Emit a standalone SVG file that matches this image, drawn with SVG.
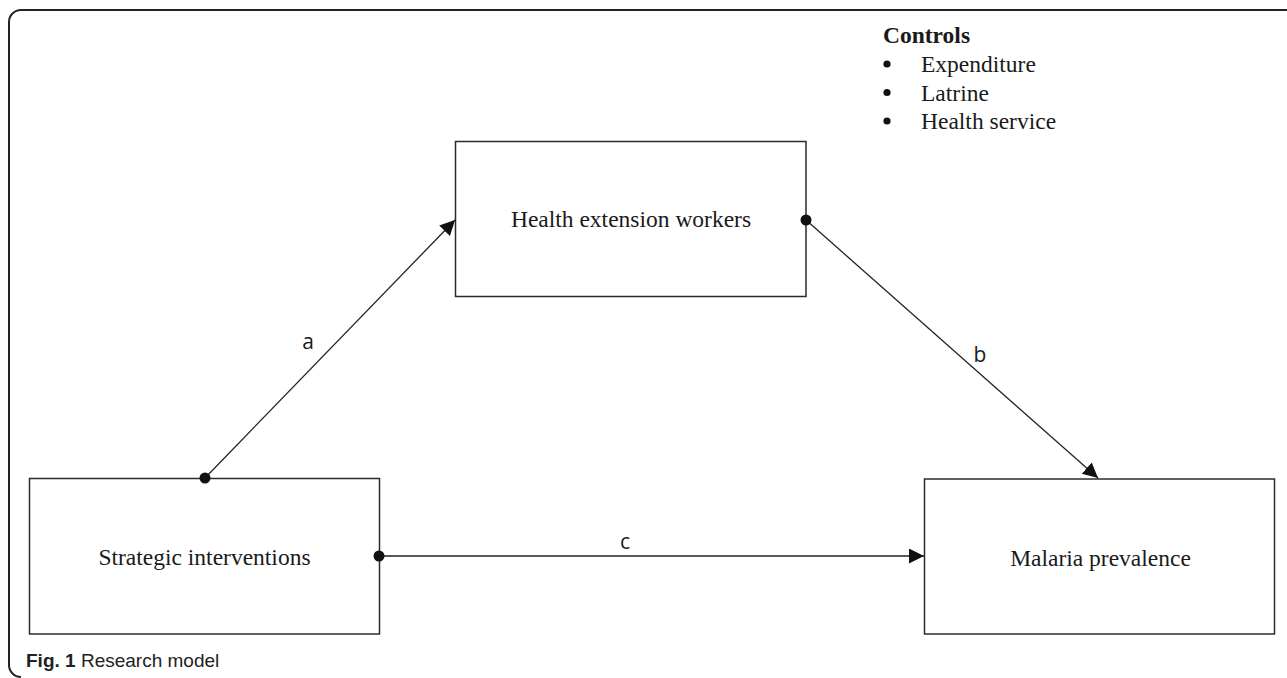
<svg xmlns="http://www.w3.org/2000/svg" width="1287" height="678" viewBox="0 0 1287 678">
<style>
.box{fill:#fff;stroke:#2b2b2b;stroke-width:1.5}
.nt{font-family:"Liberation Serif","Times New Roman",serif;font-size:23.5px;fill:#1a1a1a;text-anchor:middle}
.ct{font-family:"Liberation Serif","Times New Roman",serif;font-size:23.5px;fill:#1a1a1a}
.lbl{font-family:"Open Sans","Liberation Sans",sans-serif;font-size:21px;fill:#1a1a1a;text-anchor:middle}
.con{stroke:#222;stroke-width:1.3;fill:none}
.dot{fill:#111}
.cap{font-family:"Liberation Sans",Arial,sans-serif;font-size:19px;fill:#222}
</style>
<defs>
<marker id="arr" markerUnits="userSpaceOnUse" markerWidth="16" markerHeight="16" viewBox="0 0 16 16" refX="15" refY="7.5" orient="auto">
<path d="M0,0 L15,7.5 L0,15 Z" fill="#111"/>
</marker>
</defs>
<path d="M1287,10 H21 A12,12 0 0 0 9,22 V665 A12,12 0 0 0 21,677" fill="none" stroke="#222" stroke-width="2"/>
<g id="controls">
<text class="ct" x="883" y="43" font-weight="bold">Controls</text>
<circle cx="887" cy="64" r="3.6" fill="#111"/>
<text class="ct" x="921" y="72">Expenditure</text>
<circle cx="887" cy="92.5" r="3.6" fill="#111"/>
<text class="ct" x="921" y="100.5">Latrine</text>
<circle cx="887" cy="121" r="3.6" fill="#111"/>
<text class="ct" x="921" y="129">Health service</text>
</g>
<g id="node-hew">
<rect class="box" x="455.5" y="141.5" width="350.5" height="155"/>
<text class="nt" x="631" y="227">Health extension workers</text>
</g>
<g id="node-si">
<rect class="box" x="29.5" y="478.5" width="350" height="155.5"/>
<text class="nt" x="204.5" y="565">Strategic interventions</text>
</g>
<g id="node-mp">
<rect class="box" x="924.5" y="479" width="350" height="155"/>
<text class="nt" x="1100.5" y="566">Malaria prevalence</text>
</g>
<g id="connectors">
<line class="con" x1="205" y1="478" x2="455" y2="220" marker-end="url(#arr)"/>
<circle class="dot" cx="205" cy="478" r="5.5"/>
<text class="lbl" x="308" y="349">a</text>
<line class="con" x1="806" y1="220" x2="1098" y2="478" marker-end="url(#arr)"/>
<circle class="dot" cx="806" cy="220" r="5.5"/>
<text class="lbl" x="980" y="362">b</text>
<line class="con" x1="379" y1="556" x2="924" y2="556" marker-end="url(#arr)"/>
<circle class="dot" cx="379" cy="556" r="5.5"/>
<text class="lbl" x="625" y="549">c</text>
</g>
<text class="cap" x="26" y="667"><tspan font-weight="bold">Fig. 1</tspan> Research model</text>
</svg>
